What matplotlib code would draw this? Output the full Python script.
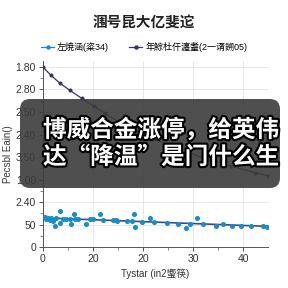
import matplotlib
matplotlib.use('Agg')
import matplotlib.pyplot as plt
import matplotlib.patheffects as pe
from matplotlib.patches import FancyBboxPatch

plt.rcParams['font.family'] = ['Liberation Sans', 'Noto Sans CJK SC', 'DejaVu Sans']

# purple series (declining curve)
purple_x = [0, 1.6, 3.4, 5.4, 7.8, 10.2, 12.4, 15.5, 19, 22, 25, 29, 33, 37.6, 42.4, 45]
purple_y = [8.0, 7.63, 7.28, 6.96, 6.6, 6.25, 5.94, 5.5, 5.1, 4.8, 4.55, 4.2, 3.9, 3.6, 3.3, 3.17]

# blue scatter series
blue_x = [0.34, 0.6, 1.0, 1.34, 1.6, 2.0, 2.34, 2.6, 3.4, 3.4, 4.0, 4.6, 5.4, 5.6, 6.2, 6.4,
          7.0, 8.6, 9.4, 10.0, 11.4, 12.0, 14.0, 14.6, 14.8, 16.8, 17.8, 18.2, 18.4, 19.8,
          21.4, 22.2, 24.8, 27.0, 28.6, 29.4, 30.8, 32.0, 34.6, 36.0, 37.8, 39.6, 41.6, 44.0, 44.8]
blue_y = [1.34, 1.25, 1.29, 1.21, 1.29, 1.16, 0.94, 1.29, 1.61, 1.07, 1.25, 1.25, 1.25, 1.03, 1.47, 1.25,
          1.25, 1.03, 1.25, 1.25, 1.47, 1.21, 1.21, 1.21, 1.16, 1.16, 1.16, 1.47, 0.89, 1.12,
          1.29, 1.12, 1.07, 1.03, 0.85, 1.03, 1.29, 1.03, 0.94, 1.03, 0.94, 0.94, 0.94, 0.94, 0.89]
trend_x = [0, 45]
trend_y = [1.3, 0.92]

x_ticks = [0, 10, 20, 30, 40]
x_labels = ['0', '20', '20', '30', '40']
y_ticks = [0, 1, 2, 3, 4, 5, 6, 7, 8]
y_labels = ['0', '50', '2.40', '1.00', '3.50', '2.40', '2.50', '2.80', '1.80']

fig = plt.figure(figsize=(2.88, 2.88), dpi=100)
ax = fig.add_axes([0.149, 0.142, 0.782, 0.645])

ax.plot(purple_x, purple_y, color='#3b2f6e', lw=0.9, marker='o', ms=1.9,
        label='左焼涵(粢34)', zorder=3)
ax.plot(trend_x, trend_y, color='#3d4a8a', lw=1.2, zorder=2)
ax.scatter(blue_x, blue_y, s=7, color='#1a8ccc', zorder=4)

ax.set_xlim(0, 45)
ax.set_ylim(0, 8.25)
ax.set_xticks(x_ticks)
ax.set_xticklabels(x_labels)
ax.set_xticks([5, 15, 25, 35], minor=True)
ax.set_yticks(y_ticks)
ax.set_yticklabels(y_labels)
ax.set_yticks([0.5 + i for i in range(8)], minor=True)
ax.tick_params(labelsize=7.5, length=3, width=0.6, colors='#333333', pad=2)
ax.tick_params(which='minor', length=2, width=0.5, colors='#555555')
ax.grid(True, color='#e3e3e3', lw=0.6)
for s in ['top', 'right']:
    ax.spines[s].set_visible(False)
for s in ['left', 'bottom']:
    ax.spines[s].set_color('#555555')
    ax.spines[s].set_linewidth(0.7)

ax.set_xlabel('Tystar (in2蠁筷)', fontsize=7, color='#333333', labelpad=3)
ax.set_ylabel('Pecsbl Eain()', fontsize=7, color='#333333', labelpad=2)

fig.text(0.5, 0.92, '涠号昆大亿斐迱', ha='center', va='center', fontsize=10.5,
         fontweight='heavy', color='#222222', family=['Noto Sans CJK SC', 'DejaVu Sans'])

# legend
h1, = ax.plot([], [], color='#1a8ccc', lw=0.9, marker='o', ms=2.2)
h2, = ax.plot([], [], color='#3b2f6e', lw=0.9, marker='o', ms=2.2)
fig.legend([h1, h2], ['左焼涵(粢34)', '年鯮杜仠瀍耋(2一谞鎙05)'], loc='center',
           bbox_to_anchor=(0.5, 0.837), ncol=2, frameon=False, fontsize=6.5,
           handlelength=1.5, handletextpad=0.3, columnspacing=2.2)

# overlay caption box
box = FancyBboxPatch((20 / 288, 1 - 188 / 288), 260 / 288, 89 / 288,
                     boxstyle='round,pad=0,rounding_size=0.035',
                     transform=fig.transFigure, facecolor='#3c3c3c', alpha=0.9,
                     edgecolor='none', zorder=10)
fig.patches.append(box)
for txt, yy in [('博威合金涨停，给英伟', 1 - 130 / 288), ('达“降温”是门什么生', 1 - 157 / 288)]:
    fig.text(43 / 288, yy, txt, ha='left', va='center', fontsize=17, fontweight='heavy',
             color='white', zorder=11, family=['Noto Sans CJK SC', 'DejaVu Sans'],
             path_effects=[pe.withStroke(linewidth=3, foreground='black')])

fig.savefig('out.png', dpi=100)
